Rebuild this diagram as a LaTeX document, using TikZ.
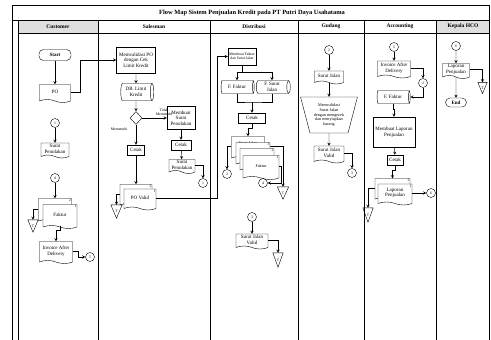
\documentclass[tikz,border=0pt]{standalone}
\usepackage{fontspec}
\setmainfont{Liberation Serif}
\usetikzlibrary{shapes.geometric,shapes.symbols,backgrounds}

\newcommand\fnormal{\fontsize{5}{5.6}\selectfont}
\newcommand\fkecil{\fontsize{4.2}{4.8}\selectfont}
\newcommand\fmini{\fontsize{3.8}{4.3}\selectfont}

\tikzset{
  proses/.style={draw, rectangle, align=center, inner sep=0.5pt, font=\fnormal, fill=white},
  dokumen/.style={draw, tape, tape bend top=none, tape bend bottom=out and in, tape bend height=3pt, align=center, inner sep=0.5pt, font=\fnormal, fill=white},
  arsipdb/.style={draw, cylinder, shape aspect=0.35, align=center, inner sep=0.5pt, font=\fnormal, fill=white},
  terminal/.style={draw, rectangle, rounded corners=4.5pt, font=\fnormal\bfseries, inner sep=0.5pt},
  keputusan/.style={draw, diamond, minimum width=12pt, minimum height=13pt, inner sep=0pt},
  manual/.style={draw, trapezium, trapezium left angle=72, trapezium right angle=72, shape border rotate=180, trapezium stretches=true, align=center, inner sep=0pt, font=\fkecil},
  sambung/.style={draw, circle, minimum size=9pt, inner sep=0pt, font=\fmini},
  arsip/.style={minimum width=10pt, minimum height=12pt, inner sep=0pt, font=\fmini},
  nomor/.style={anchor=north east, inner sep=0.6pt, font=\fmini},
  kepala/.style={font=\fontsize{5.5}{6}\selectfont\bfseries},
}

\begin{document}
\begin{tikzpicture}[x=1pt, y=-1pt, >=stealth, line width=0.4pt]
\useasboundingbox (0,0) rectangle (491,340);

%bingkai
\fill[gray!25] (18,20) rectangle (98,33);
\fill[gray!25] (436,20) rectangle (489,33);
\draw[line width=1pt] (12,340) -- (12,5) -- (489,5) -- (489,340);
\draw[line width=0.8pt] (12,20) -- (489,20);
\draw[line width=0.8pt] (18,33) -- (489,33);
\foreach \x in {18,98,210,298,364,436}
  \draw[line width=0.8pt] (\x,20) -- (\x,340);
\node[font=\fontsize{6.4}{7}\selectfont\bfseries] (judul) at (252,12.5) {Flow Map Sistem Penjualan Kredit pada PT Putri Daya Usahatama};
\node[kepala] (hcust) at (58,26.5) {Customer};
\node[kepala] (hsales) at (154,26.5) {Salesman};
\node[kepala] (hdist) at (254,26.5) {Distribusi};
\node[kepala] (hgud) at (331,26.5) {Gudang};
\node[kepala] (hacc) at (400,26.5) {Accounting};
\node[kepala] (hhco) at (463,26.5) {Kepala HCO};

%customer
\node[terminal, minimum width=32pt, minimum height=11pt] (start) at (55,55) {Start};
\node[dokumen, minimum width=31pt, minimum height=18pt] (po) at (55,92) {PO};
\node[sambung] (sa1) at (55,123) {1};
\node[dokumen, minimum width=28pt, minimum height=15pt] (tolakc) at (55,149) {Surat\\Penolakan};
\node[sambung] (sa4) at (55,178) {4};
\node[dokumen, minimum width=33pt, minimum height=24pt] (fakturc2) at (55,209) {};
\node[nomor] (nc2) at (fakturc2.north east) {2};
\node[dokumen, minimum width=34pt, minimum height=24pt] (fakturc1) at (60,215) {Faktur};
\node[nomor] (nc1) at (fakturc1.north east) {1};
\node[arsip] (ta1) at (33,226) {T};
\node[dokumen, minimum width=33pt, minimum height=22pt] (invc) at (56,251) {Invoice After\\Delivery};
\node[sambung] (sa5) at (90,257) {5};

\draw[->] (start) -- (po);
\draw[->] (sa1) -- (tolakc);
\draw[->] (sa4) -- (fakturc2);
\draw[->] (fakturc2.west) -| (ta1.north);
\draw[->] (fakturc1.south) -- ++(0,4) -| (invc.north);
\draw[->] (invc.east) -- ++(5,0) |- (sa5);

%salesman
\node[proses, minimum width=39pt, minimum height=26pt] (validasi) at (136,60) {Memvalidasi PO\\dengan Cek\\Limit Kredit};
\node[arsipdb, minimum width=17pt, minimum height=33pt] (dblimit) at (136,92) {DB. Limit\\Kredit};
\node[keputusan] (cek) at (136,118) {};
\node[proses, minimum width=28pt, minimum height=23pt] (buattolak) at (181,118) {Membuat\\Surat\\Penolakan};
\node[font=\fmini, align=center] (ltidak) at (164,112) {Tidak\\Memenuhi};
\node[font=\fmini] (lya) at (119,129) {Memenuhi};
\node[proses, minimum width=17pt, minimum height=10pt] (cetaks) at (136,150) {Cetak};
\node[proses, minimum width=20pt, minimum height=10pt] (cetakt) at (181,145) {Cetak};
\node[dokumen, minimum width=26pt, minimum height=14pt] (tolaks) at (182,165) {Surat\\Penolakan};
\node[sambung] (sb1) at (203,183) {1};
\node[dokumen, minimum width=32pt, minimum height=22pt] (pov2) at (136,194) {};
\node[nomor] (ns2) at (pov2.north east) {2};
\node[dokumen, minimum width=32pt, minimum height=21pt] (pov1) at (140,198) {PO Valid};
\node[nomor] (ns1) at (pov1.north east) {1};
\node[arsip, minimum width=11pt, minimum height=13pt] (ta2) at (116.5,211.5) {T};

\draw[->] (po.east) -- ++(9,0) |- (validasi.west);
\draw[->] (validasi) -- (dblimit);
\draw[->] (dblimit) -- (cek);
\draw[->] (cek.east) -- (buattolak.west);
\draw[->] (cek.south) -- (cetaks);
\draw[->] (buattolak) -- (cetakt);
\draw[->] (cetakt) -- (tolaks);
\draw[->] (tolaks.east) -| (sb1.north);
\draw[->] (cetaks) -- (pov2);
\draw[->] (pov2.west) -| (ta2.north);

%distribusi
\node[proses, font=\fmini, minimum width=28pt, minimum height=17pt] (buatfaktur) at (242,56.5) {Membuat Faktur\\dan Surat Jalan};
\node[arsipdb, minimum width=13pt, minimum height=33pt] (ffaktur) at (237,87) {F. Faktur};
\node[arsipdb, minimum width=13pt, minimum height=34pt] (fsjalan) at (272,87) {F. Surat\\Jalan};
\coordinate (gabung) at (252,102);
\node[proses, minimum width=27pt, minimum height=10pt] (cetakd) at (252,118) {Cetak};
\node[dokumen, minimum width=33pt, minimum height=23pt] (sjalan) at (248,146.5) {};
\node[font=\fkecil, anchor=north] (tsjalan) at ([yshift=-1.5pt]sjalan.north) {Surat Jalan};
\node[dokumen, minimum width=34pt, minimum height=23pt] (fd3) at (253,152.5) {};
\node[nomor] (nd3) at (fd3.north east) {3};
\node[dokumen, minimum width=34pt, minimum height=23pt] (fd2) at (257,158.5) {};
\node[nomor] (nd2) at (fd2.north east) {2};
\node[dokumen, font=\fkecil, minimum width=36pt, minimum height=24pt] (fd1) at (261,166) {Faktur};
\node[nomor] (nd1) at (fd1.north east) {1};
\node[sambung] (sd2) at (227,174) {2};
\node[sambung] (sd4) at (263,183) {4};
\node[arsip, minimum width=11pt] (ta3) at (283,193) {T};
\node[sambung] (sd3) at (252,217) {3};
\node[dokumen, minimum width=32pt, minimum height=15pt] (sjvalid) at (252,240) {Surat Jalan\\Valid};
\node[arsip, minimum height=14pt] (ta4) at (278,260) {T};

\draw[->] (pov1.east) -- ++(61,0) |- (buatfaktur.west);
\draw[->] (buatfaktur.south) -- ++(0,7) -| (ffaktur.north);
\draw[->] (buatfaktur.south) -- ++(0,7) -| (fsjalan.north);
\draw (ffaktur.south) |- (gabung) -| (fsjalan.south);
\draw[->] (gabung) -- (cetakd);
\draw[->] (cetakd.south) -- ++(0,5) -| (sjalan.north);
\draw[->] (sjalan.west) -| (sd2.north);
\draw[->] (fd1.east) -- ++(2,0) |- (sd4.east);
\begin{scope}[on background layer]
\draw[->] (sjalan.east) -| (ta3.north);
\end{scope}
\draw[->] (sd3) -- (sjvalid);
\draw[->] (sjvalid.east) -| (ta4.north);

%gudang
\node[sambung] (sg2) at (329,50) {2};
\node[dokumen, minimum width=29pt, minimum height=13pt] (sjg) at (329,76) {Surat Jalan};
\node[manual, minimum width=57pt, minimum height=36pt] (cekbarang) at (329,115) {Memvalidasi\\Surat Jalan\\dengan mengecek\\dan menyiapkan\\barang};
\node[dokumen, minimum width=30pt, minimum height=17pt] (sjvg) at (329,153) {Surat Jalan\\Valid};
\node[sambung] (sg3) at (352,173) {3};

\draw[->] (sg2) -- (sjg);
\draw[->] (sjg) -- (cekbarang);
\draw[->] (cekbarang) -- (sjvg);
\draw[->] (sjvg.east) -| (sg3.north);

%accounting
\node[sambung] (sc5) at (394,47) {5};
\node[dokumen, minimum width=33pt, minimum height=17pt] (inva) at (394,68) {Invoice After\\Delivery};
\node[sambung] (sc2) at (423,83) {2};
\node[arsipdb, minimum width=13pt, minimum height=33pt] (ffa) at (393,97) {F. Faktur};
\node[proses, minimum width=42pt, minimum height=30pt] (laporan) at (394,132) {Membuat Laporan\\Penjualan};
\node[proses, minimum width=16pt, minimum height=10pt] (cetaka) at (395,160) {Cetak};
\node[dokumen, minimum width=35pt, minimum height=22pt] (lp2) at (392.5,188) {};
\node[nomor] (na2) at (lp2.north east) {2};
\node[dokumen, minimum width=34pt, minimum height=21pt] (lp1) at (395,193) {Laporan\\Penjualan};
\node[nomor] (na1) at (lp1.north east) {1};
\node[arsip, minimum height=14pt] (ta5) at (368,215) {T};
\node[sambung] (sc6) at (431,193) {6};

\draw[->] (sc5) -- (inva);
\draw[->] (inva.east) -| (sc2.north);
\draw[->] (sc2.south) |- (ffa.east);
\draw[->] (ffa.south) -- ++(0,5) -| (laporan.north);
\draw[->] (laporan) -- (cetaka);
\draw[->] (cetaka.south) -- ++(0,5) -| (lp2.north);
\draw[->] (lp2.west) -| (ta5.north);
\draw[->] (lp1.east) -- (sc6);

%kepala hco
\node[sambung] (sk6) at (456,46) {6};
\node[dokumen, minimum width=27pt, minimum height=15pt] (lpk) at (456,69.5) {Laporan\\Penjualan};
\node[arsip, minimum width=9pt, minimum height=11pt] (ta6) at (482.5,88) {T};
\node[terminal, minimum width=21pt, minimum height=9pt] (end) at (456,102.5) {End};

\draw[->] (sk6) -- (lpk);
\draw[->] (lpk.east) -| (ta6.north);
\draw[->] (lpk) -- (end);

%segitiga arsip
\foreach \t in {ta1,ta2,ta3,ta4,ta5,ta6}
  \draw (\t.north west) -- (\t.north east) -- (\t.south) -- cycle;
\end{tikzpicture}
\end{document}
